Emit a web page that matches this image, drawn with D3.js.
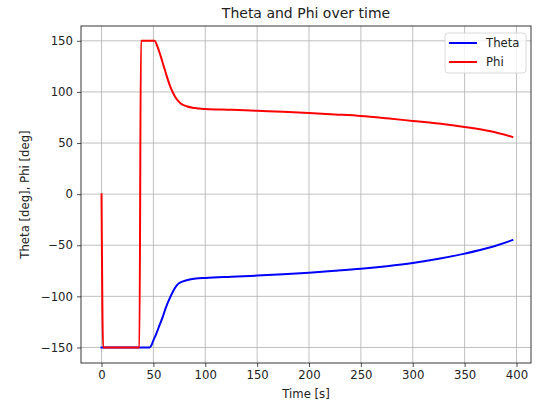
<!DOCTYPE html>
<html>
<head>
<meta charset="utf-8">
<script src="https://cdn.jsdelivr.net/npm/d3@7"></script>
<style>
  body { margin: 0; background: #fff; }
  text { font-family: "DejaVu Sans", sans-serif; fill: #222; }
</style>
</head>
<body>
<div id="chart"></div>
<script>
// [time s, angle deg]
const thetaData = [
  [0,-150],[46,-150],[48,-148],[50,-143],[53,-136],[56,-128],[59,-120],[62,-111],
  [65.7,-102],[69,-95],[72,-90],[75,-87],[78.5,-85.3],[85,-83.5],[91,-82.6],[100,-82],
  [125,-80.8],[150,-79.7],[175,-78.3],[200,-76.8],[225,-75],[250,-73],[275,-70.5],
  [300,-67.4],[325,-63.3],[350,-58.2],[375,-52],[396,-45]
];
const phiData = [
  [0,0],[1.5,-150],[36.5,-150],[38,150],[51,150],[54,144],[57,135],[60,125],[63,115],
  [66,106],[69,99],[72,93.5],[76,89],[82,86],[90,84.2],[100,83.3],[125,82.5],[150,81.5],
  [175,80.5],[200,79.4],[225,78],[250,76.5],[275,74.2],[300,71.6],[325,69],[350,65.7],
  [375,61.5],[396,56]
];
const series = [
  {name: "Theta", color: "#0000ff", values: thetaData},
  {name: "Phi", color: "#ff0000", values: phiData}
];
const xTicks = [0, 50, 100, 150, 200, 250, 300, 350, 400];
const yTicks = [-150, -100, -50, 0, 50, 100, 150];

const width = 537, height = 404;
const margin = {top: 26, right: 6, bottom: 41, left: 81};

const svg = d3.select("#chart")
  .append("svg")
    .attr("width", width)
    .attr("height", height);

const x = d3.scaleLinear()
  .domain([-19.8, 414])
  .range([margin.left, width - margin.right]);
const y = d3.scaleLinear()
  .domain([-165.2, 164.5])
  .range([height - margin.bottom, margin.top]);

// grid
svg.append("g")
  .selectAll("line")
  .data(xTicks)
  .join("line")
    .attr("x1", d => x(d)).attr("x2", d => x(d))
    .attr("y1", margin.top).attr("y2", height - margin.bottom)
    .attr("stroke", "#b0b0b0").attr("stroke-width", 0.8);
svg.append("g")
  .selectAll("line")
  .data(yTicks)
  .join("line")
    .attr("y1", d => y(d)).attr("y2", d => y(d))
    .attr("x1", margin.left).attr("x2", width - margin.right)
    .attr("stroke", "#b0b0b0").attr("stroke-width", 0.8);

// axes
const fmt = d3.format("d");
const xAxis = svg.append("g")
  .attr("transform", `translate(0,${height - margin.bottom})`)
  .call(d3.axisBottom(x).tickValues(xTicks).tickFormat(fmt).tickSize(4).tickPadding(4));
const yAxis = svg.append("g")
  .attr("transform", `translate(${margin.left},0)`)
  .call(d3.axisLeft(y).tickValues(yTicks).tickFormat(d => fmt(d).replace("-", "\u2212")).tickSize(4).tickPadding(4));
[xAxis, yAxis].forEach(g => {
  g.select(".domain").remove();
  g.selectAll("text").style("font-size", "11.7px").attr("fill", "#222");
  g.selectAll("line").attr("stroke", "#222").attr("stroke-width", 0.8);
});

// lines
const line = d3.line()
  .curve(d3.curveMonotoneX)
  .x(d => x(d[0]))
  .y(d => y(d[1]));
svg.append("g")
  .selectAll("path")
  .data(series)
  .join("path")
    .attr("d", d => line(d.values))
    .attr("fill", "none")
    .attr("stroke", d => d.color)
    .attr("stroke-width", 2)
    .attr("stroke-linejoin", "round")
    .attr("stroke-linecap", "square");

// frame
svg.append("rect")
  .attr("x", margin.left).attr("y", margin.top)
  .attr("width", width - margin.left - margin.right)
  .attr("height", height - margin.top - margin.bottom)
  .attr("fill", "none").attr("stroke", "#222").attr("stroke-width", 0.9);

// title and labels
const cx = (margin.left + width - margin.right) / 2;
svg.append("text")
  .text("Theta and Phi over time")
  .attr("x", cx).attr("y", 18)
  .attr("text-anchor", "middle")
  .style("font-size", "14px");
svg.append("text")
  .text("Time [s]")
  .attr("x", cx).attr("y", 398)
  .attr("text-anchor", "middle")
  .style("font-size", "11.7px");
svg.append("text")
  .text("Theta [deg], Phi [deg]")
  .attr("transform", `translate(29,${(margin.top + height - margin.bottom) / 2}) rotate(-90)`)
  .attr("text-anchor", "middle")
  .style("font-size", "11.7px");

// legend
const legend = svg.append("g").attr("transform", "translate(445,33)");
legend.append("rect")
  .attr("width", 81).attr("height", 40).attr("rx", 3)
  .attr("fill", "#fff").attr("fill-opacity", 0.8)
  .attr("stroke", "#d0d0d0").attr("stroke-width", 0.8);
const items = legend.selectAll("g.item")
  .data(series)
  .join("g")
    .attr("class", "item")
    .attr("transform", (d, i) => `translate(0,${10 + i * 19})`);
items.append("line")
  .attr("x1", 4).attr("x2", 32)
  .attr("stroke", d => d.color).attr("stroke-width", 2);
items.append("text")
  .text(d => d.name)
  .attr("x", 41).attr("y", 4.2)
  .style("font-size", "11.7px");
</script>
</body>
</html>
